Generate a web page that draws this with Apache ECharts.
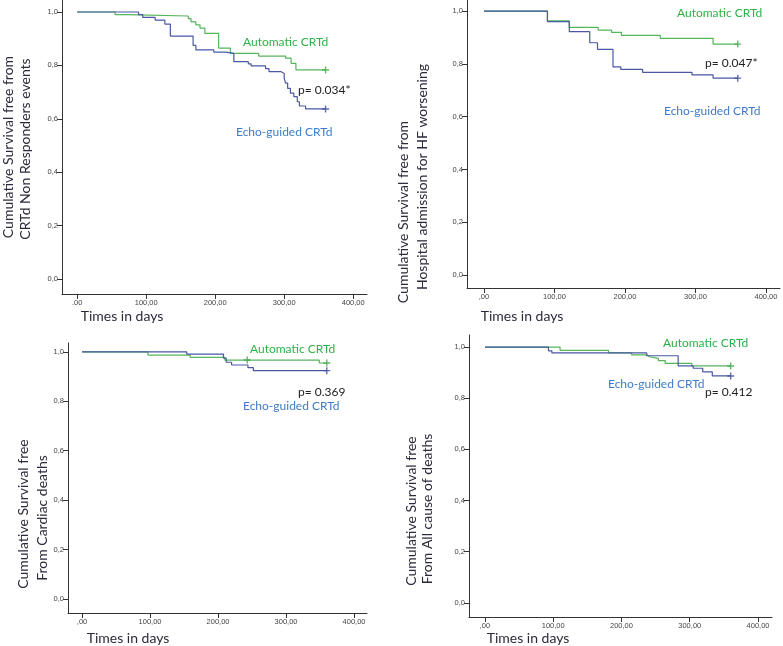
<!DOCTYPE html>
<html>
<head>
<meta charset="utf-8">
<script src="https://cdn.jsdelivr.net/npm/echarts@6/dist/echarts.min.js"></script>
<style>
html,body{margin:0;padding:0;background:#fff;}
#chart{width:783px;height:646px;}
</style>
</head>
<body>
<div id="chart"></div>
<script>
// ---- Data ----
const yTickValues = [0, 0.2, 0.4, 0.6, 0.8, 1.0];
const yTickLabels = ['0,0', '0,2', '0,4', '0,6', '0,8', '1,0'];
const xTickValues = [0, 100, 200, 300, 400];
const xTickLabelsA = ['.00', '100,00', '200,00', '300,00', '400,00'];
const xTickLabelsB = [',00', '100,00', '200,00', '300,00', '400,00'];

// Panel 1: CRTd Non Responders events
const p1AutoDays = [0, 55, 72, 161, 165, 172, 178, 185, 205, 222, 263, 302, 310, 317, 360];
const p1AutoSurv = [1.0, 0.99, 0.985, 0.975, 0.963, 0.952, 0.94, 0.92, 0.865, 0.845, 0.835, 0.827, 0.808, 0.783, 0.783];
const p1EchoDays = [0, 89, 95, 113, 127, 135, 168, 172, 198, 215, 227, 248, 252, 273, 278, 295, 300, 302, 305, 309, 314, 319, 322, 331, 360];
const p1EchoSurv = [1.0, 0.99, 0.98, 0.97, 0.955, 0.91, 0.875, 0.858, 0.85, 0.845, 0.814, 0.806, 0.798, 0.788, 0.777, 0.77, 0.752, 0.734, 0.714, 0.696, 0.683, 0.664, 0.648, 0.637, 0.637];

// Panel 2: Hospital admission for HF worsening
const p2AutoDays = [0, 90, 121, 162, 181, 195, 250, 325, 360];
const p2AutoSurv = [1.0, 0.963, 0.938, 0.928, 0.919, 0.908, 0.897, 0.875, 0.875];
const p2EchoDays = [0, 90, 121, 150, 161, 183, 194, 225, 295, 325, 360];
const p2EchoSurv = [1.0, 0.96, 0.922, 0.88, 0.855, 0.789, 0.779, 0.768, 0.758, 0.746, 0.746];

// Panel 3: Cardiac deaths
const p3AutoDays = [0, 97, 159, 210, 349, 360];
const p3AutoSurv = [1.0, 0.987, 0.978, 0.967, 0.955, 0.955];
const p3EchoDays = [0, 154, 208, 212, 220, 244, 252, 360];
const p3EchoSurv = [1.0, 0.991, 0.975, 0.958, 0.947, 0.936, 0.924, 0.924];
const p3AutoCensorDays = [243, 360];
const p3AutoCensorSurv = [0.967, 0.955];

// Panel 4: All cause of deaths
const p4AutoDays = [0, 110, 181, 215, 237, 241, 254, 264, 303, 360];
const p4AutoSurv = [1.0, 0.987, 0.977, 0.969, 0.962, 0.956, 0.947, 0.936, 0.926, 0.926];
const p4EchoDays = [0, 93, 98, 237, 283, 305, 319, 333, 360];
const p4EchoSurv = [1.0, 0.985, 0.977, 0.966, 0.926, 0.917, 0.903, 0.887, 0.887];

const pValues = ['p= 0.034*', 'p= 0.047*', 'p= 0.369', 'p= 0.412'];
const groupNames = ['Automatic CRTd', 'Echo-guided CRTd'];
const yTitles = [
  ['Cumulative Survival free from', 'CRTd Non Responders events'],
  ['Cumulative Survival free from', 'Hospital admission for HF worsening'],
  ['Cumulative Survival free', 'From Cardiac deaths'],
  ['Cumulative Survival free', 'From All cause of deaths']
];
const xTitle = 'Times in days';

// ---- Layout / style ----
const GREEN_LINE = '#55b55a';
const BLUE_LINE = '#4a58a6';
const GREEN_TEXT = '#2fb04a';
const BLUE_TEXT = '#3f7cc8';
const AXIS = '#333';
const FONT = 'Lato, "Open Sans", sans-serif';

const panels = [
  {left: 62, top: 0, width: 305, height: 294, xmin: -22, xmax: 420, ymin: -0.056, ymax: 1.045, xl: xTickLabelsA,
   auto: [p1AutoDays, p1AutoSurv], echo: [p1EchoDays, p1EchoSurv]},
  {left: 467, top: 0, width: 313, height: 288, xmin: -24.1, xmax: 419.9, ymin: -0.049, ymax: 1.042, xl: xTickLabelsB,
   auto: [p2AutoDays, p2AutoSurv], echo: [p2EchoDays, p2EchoSurv]},
  {left: 68, top: 343, width: 299, height: 270, xmin: -20.6, xmax: 419.1, ymin: -0.057, ymax: 1.036, xl: xTickLabelsB,
   auto: [p3AutoDays, p3AutoSurv], echo: [p3EchoDays, p3EchoSurv]},
  {left: 469, top: 335, width: 303, height: 282, xmin: -23.4, xmax: 420.5, ymin: -0.055, ymax: 1.047, xl: xTickLabelsB,
   auto: [p4AutoDays, p4AutoSurv], echo: [p4EchoDays, p4EchoSurv]}
];

const zip = (a, b) => a.map((v, i) => [v, b[i]]);
const last = a => a[a.length - 1];
const PLUS = 'path://M4,0H6V4H10V6H6V10H4V6H0V4H4Z';

const grid = [], xAxis = [], yAxis = [], series = [];
panels.forEach((p, i) => {
  grid.push({left: p.left, top: p.top, width: p.width, height: p.height, containLabel: false});
  xAxis.push({
    type: 'value', gridIndex: i, min: p.xmin, max: p.xmax,
    splitLine: {show: false},
    axisLine: {show: true, onZero: false, lineStyle: {color: AXIS, width: 1}},
    axisTick: {show: true, length: 5, customValues: xTickValues, lineStyle: {color: AXIS}},
    axisLabel: {customValues: xTickValues, fontSize: 7.5, color: '#444', fontFamily: 'Liberation Sans', margin: 5,
      formatter: v => p.xl[xTickValues.indexOf(v)]}
  });
  yAxis.push({
    type: 'value', gridIndex: i, min: p.ymin, max: p.ymax,
    splitLine: {show: false},
    axisLine: {show: true, onZero: false, lineStyle: {color: AXIS, width: 1}},
    axisTick: {show: true, length: 5, customValues: yTickValues, lineStyle: {color: AXIS}},
    axisLabel: {customValues: yTickValues, fontSize: 7.5, color: '#444', fontFamily: 'Liberation Sans', margin: 4,
      formatter: v => yTickLabels[yTickValues.findIndex(t => Math.abs(t - v) < 1e-6)]}
  });
  const mk = (name, d, color) => ({
    name, type: 'line', xAxisIndex: i, yAxisIndex: i, step: 'end', symbol: 'none',
    data: zip(d[0], d[1]), lineStyle: {color, width: 1.2}, animation: false, z: 3
  });
  series.push(mk(groupNames[0], p.auto, GREEN_LINE));
  series.push(mk(groupNames[1], p.echo, BLUE_LINE));
  const autoCens = i === 2 ? zip(p3AutoCensorDays, p3AutoCensorSurv) : [[last(p.auto[0]), last(p.auto[1])]];
  series.push({type: 'scatter', xAxisIndex: i, yAxisIndex: i, symbol: PLUS, symbolSize: 7,
    itemStyle: {color: '#3aa845'}, data: autoCens, animation: false, z: 4, silent: true});
  series.push({type: 'scatter', xAxisIndex: i, yAxisIndex: i, symbol: PLUS, symbolSize: 7,
    itemStyle: {color: '#3b479c'}, data: [[last(p.echo[0]), last(p.echo[1])]], animation: false, z: 4, silent: true});
});

// text positions (pixels)
const txt = (x, y, text, opts) => ({type: 'text', x, y, style: Object.assign({text, font: '12px ' + FONT, textVerticalAlign: 'middle'}, opts)});
const rot = (x, y, text) => ({type: 'text', x, y, rotation: Math.PI / 2,
  style: {text, font: '14px ' + FONT, fill: '#2a2a3a', textAlign: 'center', textVerticalAlign: 'middle'}});

const ytPos = [
  [[8, 147], [25, 149]],
  [[403, 212], [422, 177]],
  [[23, 514], [42, 518]],
  [[411, 511], [427, 509]]
];
const xtPos = [[122, 316], [522, 316], [128, 638], [528, 638]];
const autoPos = [[243, 42], [677, 13], [250, 349], [663, 343]];
const echoPos = [[236, 132], [664, 111], [243, 406], [608, 384]];
const pPos = [[298, 90], [705, 63], [298, 392], [705, 392]];

const graphic = [];
for (let i = 0; i < 4; i++) {
  graphic.push(rot(ytPos[i][0][0], ytPos[i][0][1], yTitles[i][0]));
  graphic.push(rot(ytPos[i][1][0], ytPos[i][1][1], yTitles[i][1]));
  graphic.push(txt(xtPos[i][0], xtPos[i][1], xTitle, {font: '14px ' + FONT, fill: '#2a2a3a', textAlign: 'center'}));
  graphic.push(txt(autoPos[i][0], autoPos[i][1], groupNames[0], {fill: GREEN_TEXT}));
  graphic.push(txt(echoPos[i][0], echoPos[i][1], groupNames[1], {fill: BLUE_TEXT}));
  graphic.push(txt(pPos[i][0], pPos[i][1], pValues[i], {fill: '#222'}));
}

const chart = echarts.init(document.getElementById('chart'), null, {renderer: 'canvas'});
chart.setOption({
  backgroundColor: '#fff',
  animation: false,
  grid, xAxis, yAxis, series, graphic
});
</script>
</body>
</html>
